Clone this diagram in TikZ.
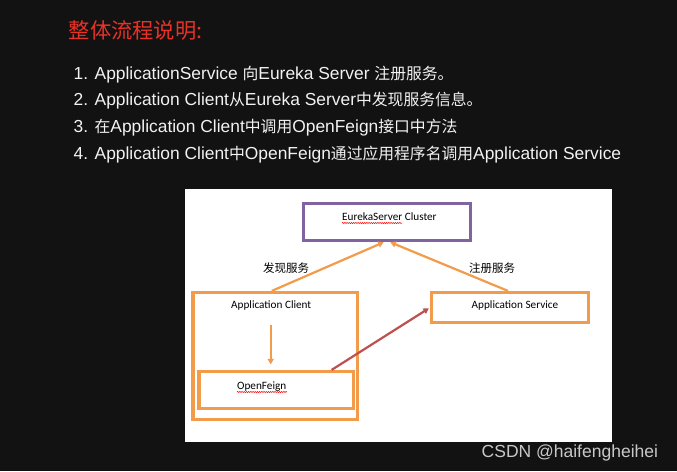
\documentclass[tikz,border=0pt]{standalone}
\usepackage{fontspec}
\setmainfont{Liberation Sans}
\newfontfamily\cjk{Noto Sans CJK SC}
\newfontfamily\calib{Carlito}
\usetikzlibrary{arrows.meta,decorations.pathmorphing,calc}
\definecolor{bgdark}{RGB}{18,18,18}
\definecolor{titlered}{RGB}{232,50,40}
\definecolor{listwhite}{RGB}{242,242,242}
\definecolor{boxorange}{RGB}{242,155,75}
\definecolor{boxpurple}{RGB}{128,100,162}
\definecolor{arrowred}{RGB}{190,80,80}
\definecolor{wmgray}{RGB}{200,200,200}
\newcommand{\zh}[1]{{\cjk\fontsize{15.8}{18}\selectfont #1}}
\tikzset{
  listtext/.style={anchor=base west, inner sep=0pt, text=listwhite, font=\fontsize{17.4}{19}\selectfont},
  obox/.style={draw=boxorange, line width=3.2pt, rectangle, inner sep=0pt},
  pbox/.style={draw=boxpurple, line width=3.2pt, rectangle, inner sep=0pt},
  boxtext/.style={anchor=base west, inner sep=0pt, text=black, font=\calib\fontsize{11.2}{13}\selectfont},
  edgelabel/.style={anchor=base west, inner sep=0pt, text=black, font=\cjk\fontsize{11.5}{13}\selectfont},
  oarrow/.style={draw=boxorange, line width=2.2pt, -{Triangle[length=5.5pt,width=6pt]}},
  rarrow/.style={draw=arrowred, line width=2.2pt, -{Triangle[length=5.5pt,width=6pt]}},
  wavy/.style={draw=red, line width=0.5pt, decorate, decoration={snake, amplitude=0.6pt, segment length=2.2pt}}
}
\begin{document}
\begin{tikzpicture}[x=1pt,y=-1pt]
\fill[bgdark] (0,0) rectangle (677,471);
\useasboundingbox (0,0) rectangle (677,471);
% title
\node[anchor=base west, inner sep=0pt, text=titlered, font=\cjk\fontsize{21.3}{24}\selectfont] (title) at (68.5,38) {整体流程说明:};
% list
\node[listtext] (l1) at (73.5,79) {1. ApplicationService \zh{向}Eureka Server \zh{注册服务。}};
\node[listtext] (l2) at (73.5,105.7) {2. Application Client\zh{从}Eureka Server\zh{中发现服务信息。}};
\node[listtext] (l3) at (73.5,132.7) {3. \zh{在}Application Client\zh{中调用}OpenFeign\zh{接口中方法}};
\node[listtext] (l4) at (73.5,159.3) {4. Application Client\zh{中}OpenFeign\zh{通过应用程序名调用}Application Service};
% white panel
\fill[white] (185,189) rectangle (612,442);
% boxes
\node[pbox, minimum width=167pt, minimum height=37pt] (eureka) at (387,221.6) {};
\node[obox, minimum width=164.5pt, minimum height=127pt] (client) at (275.3,356) {};
\node[obox, minimum width=154.5pt, minimum height=37pt] (feign) at (276.3,390) {};
\node[obox, minimum width=156.5pt, minimum height=30pt] (service) at (510,307.5) {};
% box texts
\node[boxtext] (eurekatext) at (342,220) {EurekaServer Cluster};
\node[boxtext] (clienttext) at (231,308) {Application Client};
\node[boxtext] (feigntext) at (237,389) {OpenFeign};
\node[boxtext] (servicetext) at (471.5,308) {Application Service};
\draw[wavy] (342,223) -- (402,223);
\draw[wavy] (237,392) -- (287,392);
% edge labels
\node[edgelabel] (lbl1) at (263,272.4) {发现服务};
\node[edgelabel] (lbl2) at (469,272.4) {注册服务};
% arrows
\draw[oarrow, shorten >=1.5pt] ([xshift=-3.5pt]client.north) -- ([xshift=-2pt]eureka.south);
\draw[oarrow, shorten >=1.5pt] ([xshift=-2pt]service.north) -- ([xshift=2pt]eureka.south);
\coordinate (downstart) at (270.7,325);
\draw[oarrow, shorten >=5.5pt] (downstart) -- ([xshift=-5.6pt]feign.north);
\draw[rarrow, shorten >=1.5pt] ([xshift=-23.5pt]feign.north east) -- (service.west);
% watermark
\node[anchor=base west, inner sep=0pt, text=wmgray, font=\fontsize{17.5}{19}\selectfont] (wm) at (481.5,457.3) {CSDN @haifengheihei};
\end{tikzpicture}
\end{document}
